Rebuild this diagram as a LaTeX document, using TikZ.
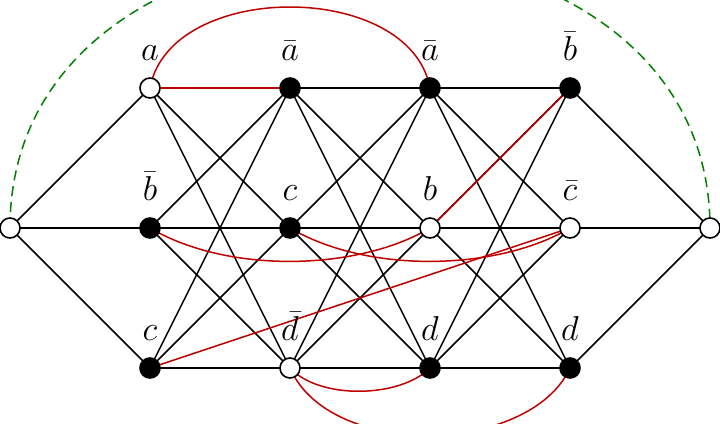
\documentclass[tikz,border=0pt]{standalone}
\begin{document}
\begin{tikzpicture}[x=0.5pt,y=-0.5pt,
  wn/.style={circle,draw,fill=white,line width=0.8pt,minimum size=10pt,inner sep=0pt},
  bn/.style={circle,draw,fill=black,line width=0.8pt,minimum size=10pt,inner sep=0pt},
  lbl/.style={above=5pt,font=\LARGE},
  e/.style={line width=0.75pt},
  r/.style={line width=0.75pt,red!75!black},
  g/.style={line width=0.75pt,green!50!black,dashed,dash pattern=on 5pt off 3pt}]
\useasboundingbox (0,0) rectangle (720,424);
\clip (0,0) rectangle (720,424);
\coordinate (L0) at (10,228); \coordinate (R0) at (710,228);
\foreach \c/\x in {1/150,2/290,3/430,4/570}{
  \coordinate (p\c1) at (\x,88);
  \coordinate (p\c2) at (\x,228);
  \coordinate (p\c3) at (\x,368);}
% black edges
\foreach \i in {1,2,3}{\draw[e] (L0)--(p1\i); \draw[e] (p4\i)--(R0);}
\foreach \c/\d in {1/2,2/3,3/4}{\foreach \i in {1,2,3}{\foreach \j in {1,2,3}{\draw[e] (p\c\i)--(p\d\j);}}}
% green
\draw[g] (L0) .. controls (10,-139) and (710,-139) .. (R0);
% red
\draw[r] (p11)--(p21);
\draw[r] (p11) .. controls (170,-20) and (410,-20) .. (p31);
\draw[r] (p12) .. controls (230,275) and (360,270) .. (p32);
\draw[r] (p22) .. controls (370,275) and (500,270) .. (p42);
\draw[r] (p32)--(p41);
\draw[r] (p13)--(p42);
\draw[r] (p23) .. controls (320,400) and (400,398) .. (p33);
\draw[r] (p23) .. controls (330,460) and (530,455) .. (p43);
% nodes
\node[wn] (L) at (L0) {}; \node[wn] (R) at (R0) {};
\node[wn,label={[lbl]$a$}] (a) at (p11) {};
\node[bn,label={[lbl]$\bar b$}] (b1) at (p12) {};
\node[bn,label={[lbl]$c$}] (c1) at (p13) {};
\node[bn,label={[lbl]$\bar a$}] (a2) at (p21) {};
\node[bn,label={[lbl]$c$}] (c2) at (p22) {};
\node[wn,label={[lbl]$\bar d$}] (d2) at (p23) {};
\node[bn,label={[lbl]$\bar a$}] (a3) at (p31) {};
\node[wn,label={[lbl]$b$}] (b3) at (p32) {};
\node[bn,label={[lbl]$d$}] (d3) at (p33) {};
\node[bn,label={[lbl]$\bar b$}] (b4) at (p41) {};
\node[wn,label={[lbl]$\bar c$}] (c4) at (p42) {};
\node[bn,label={[lbl]$d$}] (d4) at (p43) {};
\end{tikzpicture}
\end{document}
